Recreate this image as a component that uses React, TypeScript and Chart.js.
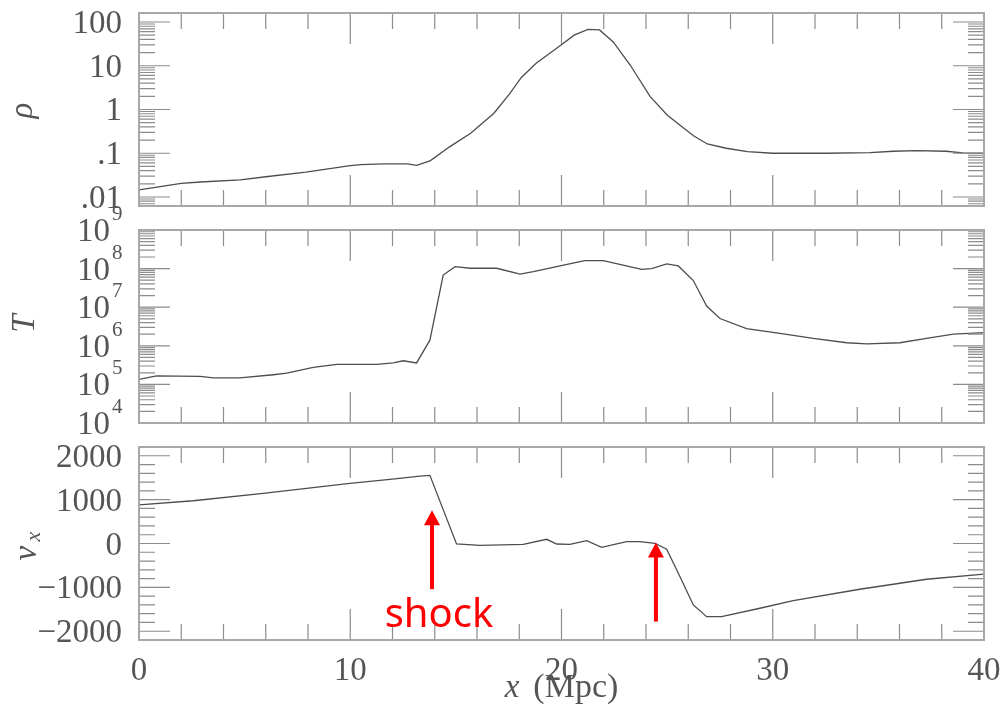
import React, { useEffect, useRef } from "react";
import { Chart, registerables } from "chart.js";
Chart.register(...registerables);

// ---------------- data ----------------
const X_MIN = 0;
const X_MAX = 40;
const xMajorTicks = [0, 10, 20, 30, 40];
const xTickLabels = ["0", "10", "20", "30", "40"];
const xMinorStep = 2;

// density
const rhoX = [0, 2.0, 2.9, 4.8, 6.0, 7.9, 10.0, 10.5, 11.6, 12.7, 13.15, 13.8, 14.7, 15.7, 16.8, 17.55, 18.1, 18.8, 19.9, 20.6, 21.25, 21.8, 22.45, 23.25, 24.2, 25.0, 25.6, 26.25, 26.9, 27.8, 28.8, 30.0, 32.5, 34.6, 35.7, 36.8, 38.2, 39.0, 40];
const rhoVal = [0.0145, 0.0205, 0.022, 0.0245, 0.029, 0.037, 0.052, 0.055, 0.057, 0.057, 0.053, 0.068, 0.14, 0.285, 0.82, 2.3, 5.4, 11.4, 28, 50, 68, 66, 35, 10.4, 1.96, 0.75, 0.44, 0.25, 0.163, 0.13, 0.109, 0.1, 0.1, 0.103, 0.111, 0.115, 0.111, 0.102, 0.1];
const rhoTickValues = [100, 10, 1, 0.1, 0.01];
const rhoTickLabels = ["100", "10", "1", ".1", ".01"];
const RHO_MIN = 0.00622;
const RHO_MAX = 160.6;

// temperature
const tempX = [0, 0.83, 2.89, 3.52, 4.78, 6.36, 6.99, 8.25, 9.36, 11.25, 12.04, 12.51, 13.14, 13.77, 14.4, 14.96, 15.67, 16.93, 18.04, 18.67, 19.93, 21.1, 21.98, 23.79, 24.27, 24.98, 25.53, 26.24, 26.87, 27.5, 28.76, 30.34, 31.92, 33.5, 34.45, 36.02, 37.28, 38.55, 40];
const tempVal = [1.35e5, 1.66e5, 1.62e5, 1.48e5, 1.48e5, 1.78e5, 1.95e5, 2.75e5, 3.3e5, 3.3e5, 3.6e5, 4.1e5, 3.6e5, 1.4e6, 6.8e7, 1.12e8, 1.02e8, 1.02e8, 7.2e7, 8.3e7, 1.17e8, 1.6e8, 1.6e8, 9.5e7, 1.0e8, 1.32e8, 1.17e8, 4.9e7, 1.07e7, 5.1e6, 2.8e6, 2.1e6, 1.55e6, 1.2e6, 1.12e6, 1.2e6, 1.55e6, 2.0e6, 2.2e6];
const tempTickExponents = [9, 8, 7, 6, 5, 4];
const T_MIN = 1e4;
const T_MAX = 1e9;

// velocity
const velX = [0, 2.57, 5.88, 9.98, 11.88, 13.3, 13.77, 15.03, 16.14, 18.19, 19.3, 19.77, 20.4, 21.19, 21.9, 23.08, 23.71, 24.42, 24.98, 25.61, 26.24, 26.87, 27.58, 29.39, 30.97, 34.12, 37.28, 40];
const velVal = [880, 975, 1143, 1371, 1462, 1538, 1553, -11, -41, -18, 96, -11, -20, 64, -87, 41, 41, 5, -132, -756, -1401, -1667, -1667, -1476, -1303, -1043, -815, -700];
const velTickValues = [2000, 1000, 0, -1000, -2000];
const velTickLabels = ["2000", "1000", "0", "\u22121000", "\u22122000"];
const velMinorStep = 200;
const V_MIN = -2200;
const V_MAX = 2200;

// annotations (in data coordinates of the velocity panel)
const arrowX = [13.87, 24.47];
const arrowTipV = [760, 20];
const arrowTailV = [-1040, -1780];
const shockText = "shock";
const shockX = 14.2;
const shockV = -1900;

// ---------------- styles ----------------
const SERIF = '"Liberation Serif", "DejaVu Serif", serif';
const SANS = '"Noto Sans", "Open Sans", sans-serif';
const TEXT = "#555555";
const FRAME = "#a8a8a8";
const TICK = "#8c8c8c";
const LINE = "#4d4d4d";
const RED = "#ff0000";
const FS = 33;
const MAJOR_LEN = 31;
const MINOR_LEN = 16;

function linearMinor(min: number, max: number, step: number, majorEvery: number) {
  const out: number[] = [];
  for (let v = min; v <= max + 1e-9; v += step) {
    if (Math.abs(v % majorEvery) > 1e-9) out.push(v);
  }
  return out;
}

function logMinor(min: number, max: number) {
  const out: number[] = [];
  for (let e = Math.floor(Math.log10(min)); e <= Math.ceil(Math.log10(max)); e++) {
    for (let m = 2; m <= 9; m++) {
      const v = m * Math.pow(10, e);
      if (v > min && v < max) out.push(v);
    }
  }
  return out;
}

type Spec = {
  id: string;
  yMajor: number[];
  yMinor: number[];
  labels: (ctx: CanvasRenderingContext2D, chart: any) => void;
};

function framePlugin(spec: Spec) {
  return {
    id: "frame_" + spec.id,
    afterDraw(chart: any) {
      const { ctx, chartArea: a, scales } = chart;
      const xs = scales.x;
      const ys = scales.y;
      ctx.save();
      ctx.strokeStyle = TICK;
      ctx.lineWidth = 1.2;
      ctx.beginPath();
      const xMinor = linearMinor(X_MIN, X_MAX, xMinorStep, 10);
      const vx = (v: number, len: number) => {
        const px = xs.getPixelForValue(v);
        ctx.moveTo(px, a.top);
        ctx.lineTo(px, a.top + len);
        ctx.moveTo(px, a.bottom);
        ctx.lineTo(px, a.bottom - len);
      };
      const vy = (v: number, len: number) => {
        const py = ys.getPixelForValue(v);
        ctx.moveTo(a.left, py);
        ctx.lineTo(a.left + len, py);
        ctx.moveTo(a.right, py);
        ctx.lineTo(a.right - len, py);
      };
      xMajorTicks.forEach((v) => vx(v, MAJOR_LEN));
      xMinor.forEach((v) => vx(v, MINOR_LEN));
      spec.yMajor.forEach((v) => vy(v, MAJOR_LEN));
      spec.yMinor.forEach((v) => vy(v, MINOR_LEN));
      ctx.stroke();
      ctx.strokeStyle = FRAME;
      ctx.lineWidth = 2;
      ctx.strokeRect(a.left, a.top, a.right - a.left, a.bottom - a.top);
      spec.labels(ctx, chart);
      ctx.restore();
    },
  };
}

function rotatedTitle(ctx: CanvasRenderingContext2D, cx: number, cy: number, draw: () => void) {
  ctx.save();
  ctx.translate(cx, cy);
  ctx.rotate(-Math.PI / 2);
  draw();
  ctx.restore();
}

function rhoLabels(ctx: CanvasRenderingContext2D, chart: any) {
  const { chartArea: a, scales } = chart;
  ctx.fillStyle = TEXT;
  ctx.font = `${FS}px ${SERIF}`;
  ctx.textAlign = "right";
  ctx.textBaseline = "alphabetic";
  rhoTickValues.forEach((v, i) => {
    const py = scales.y.getPixelForValue(v);
    ctx.fillText(rhoTickLabels[i], a.left - 17, py + 11);
  });
  rotatedTitle(ctx, 28, (a.top + a.bottom) / 2 + 1, () => {
    ctx.font = `italic ${FS}px ${SERIF}`;
    ctx.textAlign = "center";
    ctx.textBaseline = "alphabetic";
    ctx.fillText("\u03C1", 0, 4);
  });
}

function tempLabels(ctx: CanvasRenderingContext2D, chart: any) {
  const { chartArea: a, scales } = chart;
  ctx.fillStyle = TEXT;
  tempTickExponents.forEach((e) => {
    const py = scales.y.getPixelForValue(Math.pow(10, e));
    ctx.font = `${FS}px ${SERIF}`;
    ctx.textAlign = "right";
    ctx.textBaseline = "alphabetic";
    ctx.fillText("10", a.left - 29, py + 11);
    ctx.font = `21px ${SERIF}`;
    ctx.textAlign = "left";
    ctx.fillText(String(e), a.left - 27, py - 10);
  });
  rotatedTitle(ctx, 23, (a.top + a.bottom) / 2 - 3, () => {
    ctx.font = `italic ${FS}px ${SERIF}`;
    ctx.textAlign = "center";
    ctx.textBaseline = "alphabetic";
    ctx.fillText("T", 0, 11);
  });
}

function velLabels(ctx: CanvasRenderingContext2D, chart: any) {
  const { chartArea: a, scales } = chart;
  const xs = scales.x;
  const ys = scales.y;
  ctx.fillStyle = TEXT;
  ctx.font = `${FS}px ${SERIF}`;
  ctx.textAlign = "right";
  ctx.textBaseline = "alphabetic";
  velTickValues.forEach((v, i) => {
    const py = ys.getPixelForValue(v);
    ctx.fillText(velTickLabels[i], a.left - 17, py + 11);
  });
  // x tick labels
  ctx.textAlign = "center";
  xMajorTicks.forEach((v, i) => {
    ctx.fillText(xTickLabels[i], xs.getPixelForValue(v), a.bottom + 40);
  });
  // x title
  const cx = (a.left + a.right) / 2;
  ctx.font = `italic ${FS}px ${SERIF}`;
  const w1 = ctx.measureText("x").width;
  ctx.font = `${FS + 1}px ${SERIF}`;
  const w2 = ctx.measureText("(Mpc)").width;
  const gap = 14;
  const start = cx - (w1 + gap + w2) / 2;
  ctx.textAlign = "left";
  ctx.font = `italic ${FS}px ${SERIF}`;
  ctx.fillText("x", start, a.bottom + 57);
  ctx.font = `${FS + 1}px ${SERIF}`;
  ctx.fillText("(Mpc)", start + w1 + gap, a.bottom + 57);
  // y title v_x
  rotatedTitle(ctx, 30, (a.top + a.bottom) / 2, () => {
    ctx.textAlign = "left";
    ctx.textBaseline = "alphabetic";
    ctx.font = `italic ${FS}px ${SERIF}`;
    ctx.fillText("v", -17, 6);
    ctx.font = `italic 22px ${SERIF}`;
    ctx.fillText("x", 2, 10);
  });
  // red arrows
  ctx.fillStyle = RED;
  ctx.strokeStyle = RED;
  arrowX.forEach((x, i) => {
    const px = xs.getPixelForValue(x);
    const tip = ys.getPixelForValue(arrowTipV[i]);
    const tail = ys.getPixelForValue(arrowTailV[i]);
    const headH = 15;
    const headW = 8;
    ctx.lineWidth = 4;
    ctx.beginPath();
    ctx.moveTo(px, tail);
    ctx.lineTo(px, tip + headH - 1);
    ctx.stroke();
    ctx.beginPath();
    ctx.moveTo(px, tip);
    ctx.lineTo(px - headW, tip + headH);
    ctx.lineTo(px + headW, tip + headH);
    ctx.closePath();
    ctx.fill();
  });
  ctx.font = `40px ${SANS}`;
  ctx.textAlign = "center";
  ctx.textBaseline = "alphabetic";
  ctx.fillText(shockText, xs.getPixelForValue(shockX), ys.getPixelForValue(shockV));
}

function makeConfig(
  xsData: number[],
  ysData: number[],
  yType: "linear" | "logarithmic",
  yMin: number,
  yMax: number,
  padTop: number,
  padBottom: number,
  spec: Spec
): any {
  return {
    type: "line",
    data: {
      datasets: [
        {
          data: xsData.map((x, i) => ({ x, y: ysData[i] })),
          borderColor: LINE,
          borderWidth: 1.3,
          pointRadius: 0,
          tension: 0,
          fill: false,
        },
      ],
    },
    options: {
      animation: false,
      responsive: false,
      maintainAspectRatio: false,
      events: [],
      layout: { padding: { left: 139, right: 21, top: padTop, bottom: padBottom } },
      plugins: { legend: { display: false }, tooltip: { enabled: false } },
      scales: {
        x: { type: "linear", min: X_MIN, max: X_MAX, display: false },
        y: { type: yType, min: yMin, max: yMax, display: false },
      },
    },
    plugins: [framePlugin(spec)],
  };
}

export default function App() {
  const r1 = useRef<HTMLCanvasElement>(null);
  const r2 = useRef<HTMLCanvasElement>(null);
  const r3 = useRef<HTMLCanvasElement>(null);

  useEffect(() => {
    const charts: Chart[] = [];
    charts.push(
      new Chart(
        r1.current!,
        makeConfig(rhoX, rhoVal, "logarithmic", RHO_MIN, RHO_MAX, 13, 14, {
          id: "rho",
          yMajor: rhoTickValues,
          yMinor: logMinor(RHO_MIN, RHO_MAX),
          labels: rhoLabels,
        })
      )
    );
    charts.push(
      new Chart(
        r2.current!,
        makeConfig(tempX, tempVal, "logarithmic", T_MIN, T_MAX, 30, 17, {
          id: "temp",
          yMajor: tempTickExponents.map((e) => Math.pow(10, e)),
          yMinor: logMinor(T_MIN, T_MAX),
          labels: tempLabels,
        })
      )
    );
    charts.push(
      new Chart(
        r3.current!,
        makeConfig(velX, velVal, "linear", V_MIN, V_MAX, 7, 77, {
          id: "vel",
          yMajor: velTickValues,
          yMinor: linearMinor(V_MIN, V_MAX, velMinorStep, 1000).filter((v) => v > V_MIN && v < V_MAX),
          labels: velLabels,
        })
      )
    );
    return () => charts.forEach((c) => c.destroy());
  }, []);

  return (
    <div style={{ position: "absolute", left: 0, top: 0, width: 1005, height: 717, background: "#fff" }}>
      <canvas ref={r1} width={1005} height={220} style={{ position: "absolute", left: 0, top: 0 }} />
      <canvas ref={r2} width={1005} height={240} style={{ position: "absolute", left: 0, top: 200 }} />
      <canvas ref={r3} width={1005} height={277} style={{ position: "absolute", left: 0, top: 440 }} />
    </div>
  );
}
